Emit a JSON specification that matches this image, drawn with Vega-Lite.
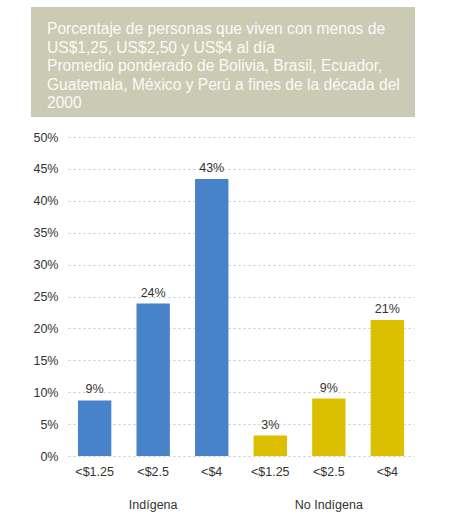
{
  "$schema": "https://vega.github.io/schema/vega-lite/v6.json",
  "padding": {"left": 30, "top": 7, "right": 5, "bottom": 5},
  "background": "white",
  "spacing": 14,
  "config": {
    "view": {"stroke": null},
    "font": "Liberation Sans"
  },
  "vconcat": [
    {
      "width": 346,
      "height": 110,
      "data": {
        "values": [
          {"texto": "Porcentaje de personas que viven con menos de\nUS$1,25, US$2,50 y US$4 al día\nPromedio ponderado de Bolivia, Brasil, Ecuador,\nGuatemala, México y Perú a fines de la década del\n2000"}
        ]
      },
      "encoding": {
        "x": {"datum": -0.107, "type": "quantitative", "scale": {"domain": [0, 1]}, "axis": null},
        "y": {"datum": 1, "type": "quantitative", "scale": {"domain": [0, 1]}, "axis": null}
      },
      "layer": [
        {
          "mark": {"type": "rect", "color": "#cbcbb5"},
          "encoding": {
            "x2": {"datum": 1.003},
            "y2": {"datum": 0}
          }
        },
        {
          "mark": {
            "type": "text",
            "align": "left",
            "baseline": "alphabetic",
            "lineBreak": "\n",
            "lineHeight": 18.5,
            "fontSize": 15.6,
            "color": "#fafaf5",
            "dx": 16,
            "dy": 27
          },
          "encoding": {
            "text": {"field": "texto"}
          }
        }
      ]
    },
    {
      "width": 346,
      "height": 319,
      "data": {
        "values": [
          {"grupo": "Indígena", "umbral": "<$1.25", "clave": "Indígena|<$1.25", "valor": 0.087},
          {"grupo": "Indígena", "umbral": "<$2.5", "clave": "Indígena|<$2.5", "valor": 0.239},
          {"grupo": "Indígena", "umbral": "<$4", "clave": "Indígena|<$4", "valor": 0.434},
          {"grupo": "No Indígena", "umbral": "<$1.25", "clave": "No Indígena|<$1.25", "valor": 0.032},
          {"grupo": "No Indígena", "umbral": "<$2.5", "clave": "No Indígena|<$2.5", "valor": 0.09},
          {"grupo": "No Indígena", "umbral": "<$4", "clave": "No Indígena|<$4", "valor": 0.213}
        ]
      },
      "encoding": {
        "x": {
          "field": "clave",
          "type": "nominal",
          "sort": null,
          "scale": {"paddingInner": 0.43, "paddingOuter": 0.17},
          "axis": {
            "title": null,
            "domain": false,
            "ticks": false,
            "labelAngle": 0,
            "labelPadding": 9,
            "labelBaseline": "top",
            "labelFontSize": 12.5,
            "labelColor": "#333333",
            "labelLineHeight": 33,
            "labelOverlap": false,
            "labelExpr": "split(datum.value, '|')[1] == '<$2.5' ? [split(datum.value, '|')[1], split(datum.value, '|')[0]] : split(datum.value, '|')[1]"
          }
        },
        "y": {
          "field": "valor",
          "type": "quantitative",
          "scale": {"domain": [0, 0.5], "nice": false},
          "axis": {
            "title": null,
            "format": ".0%",
            "values": [0, 0.05, 0.1, 0.15, 0.2, 0.25, 0.3, 0.35, 0.4, 0.45, 0.5],
            "domain": false,
            "ticks": false,
            "labelPadding": 10,
            "labelOverlap": false,
            "labelFontSize": 12.5,
            "labelColor": "#333333",
            "gridColor": "#c8c8c8",
            "gridDash": [2, 3]
          }
        }
      },
      "layer": [
        {
          "mark": {"type": "bar"},
          "encoding": {
            "color": {
              "field": "grupo",
              "type": "nominal",
              "scale": {"domain": ["Indígena", "No Indígena"], "range": ["#4882c8", "#dcbf00"]},
              "legend": null
            }
          }
        },
        {
          "mark": {
            "type": "text",
            "baseline": "alphabetic",
            "dy": -7,
            "fontSize": 12.5,
            "color": "#333333"
          },
          "encoding": {
            "text": {"field": "valor", "type": "quantitative", "format": ".0%"}
          }
        },
        {
          "data": {"values": [{"separador": "Indígena|<$4"}]},
          "mark": {"type": "rule", "color": "#cccccc", "strokeDash": [2, 3]},
          "encoding": {
            "x": {"field": "separador", "type": "nominal", "bandPosition": 1.377},
            "y": {"datum": 0.5, "type": "quantitative"},
            "y2": {"datum": -0.083}
          }
        }
      ]
    }
  ]
}
